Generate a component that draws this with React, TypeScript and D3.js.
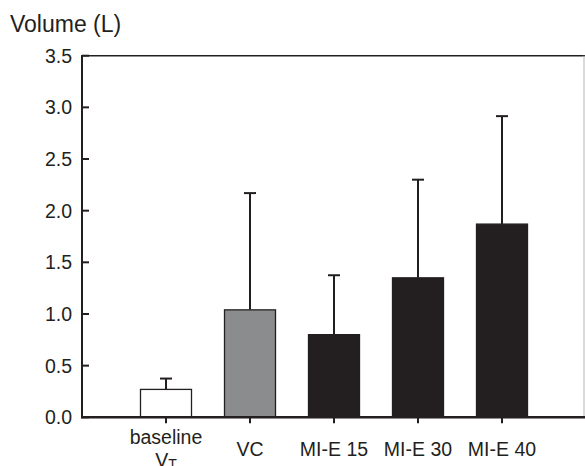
import * as d3 from "d3";

const categories = ["baseline", "VC", "MI-E 15", "MI-E 30", "MI-E 40"];
const means = [0.27, 1.04, 0.8, 1.35, 1.87];
const upperErr = [0.375, 2.17, 1.375, 2.3, 2.915];
const barFills = ["#ffffff", "#8b8c8e", "#231f20", "#231f20", "#231f20"];
const yTicks = [0, 0.5, 1, 1.5, 2, 2.5, 3, 3.5];

export default function App() {
  const width = 585;
  const height = 466;
  const left = 82;
  const right = 585;
  const top = 55.7;
  const bottom = 417.3;

  const x = d3.scalePoint<string>().domain(categories).range([left, left + 84 * 6]).padding(1);
  const y = d3.scaleLinear().domain([0, 3.5]).range([bottom, top]);
  const barW = 51;
  const ink = "#231f20";
  const font = "'Liberation Sans', Arial, Helvetica, sans-serif";

  return (
    <svg
      width={width}
      height={height}
      style={{ position: "absolute", left: 0, top: 0, background: "#fff" }}
      fontFamily={font}
    >
      <text x={10} y={32} fontSize={23} fill={ink}>Volume (L)</text>

      {/* bars */}
      {categories.map((c, i) => {
        const cx = x(c)!;
        return (
          <g key={c}>
            <line x1={cx} x2={cx} y1={y(means[i])} y2={y(upperErr[i])} stroke={ink} strokeWidth={2} />
            <line x1={cx - 6} x2={cx + 6} y1={y(upperErr[i])} y2={y(upperErr[i])} stroke={ink} strokeWidth={2} />
            <rect
              x={cx - barW / 2}
              y={y(means[i])}
              width={barW}
              height={bottom - y(means[i])}
              fill={barFills[i]}
              stroke={ink}
              strokeWidth={1.3}
            />
          </g>
        );
      })}

      {/* frame */}
      <line x1={left} x2={right} y1={top} y2={top} stroke={ink} strokeWidth={1.5} />
      <line x1={584} x2={584} y1={top} y2={bottom} stroke="#b5b5b5" strokeWidth={1} />
      <line x1={left} x2={left} y1={top - 0.7} y2={bottom + 1} stroke={ink} strokeWidth={2} />
      <line x1={left - 1} x2={right} y1={bottom} y2={bottom} stroke={ink} strokeWidth={2.5} />

      {/* y ticks */}
      {yTicks.map((t) => (
        <g key={t}>
          <line x1={left} x2={left + 7} y1={y(t)} y2={y(t)} stroke={ink} strokeWidth={2} />
          <text x={72} y={y(t)} dy="0.36em" textAnchor="end" fontSize={19.5} fill={ink}>
            {d3.format(".1f")(t)}
          </text>
        </g>
      ))}

      {/* x ticks */}
      {categories.map((c) => (
        <line key={c} x1={x(c)} x2={x(c)} y1={bottom} y2={bottom + 6} stroke={ink} strokeWidth={2} />
      ))}
      {categories.map((c, i) =>
        i === 0 ? (
          <g key={c}>
            <text x={x(c)} y={444} textAnchor="middle" fontSize={19.5} fill={ink}>baseline</text>
            <text x={x(c)} y={467} textAnchor="middle" fontSize={19.5} fill={ink}>
              V<tspan fontSize={14} dy={2}>T</tspan>
            </text>
          </g>
        ) : (
          <text key={c} x={x(c)} y={456} textAnchor="middle" fontSize={19.5} fill={ink}>{c}</text>
        )
      )}
    </svg>
  );
}
